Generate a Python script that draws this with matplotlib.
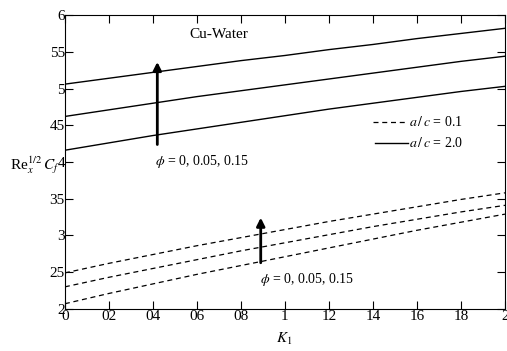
import matplotlib
matplotlib.use("Agg")
import matplotlib.pyplot as plt

plt.rcParams['font.family'] = ['Liberation Serif', 'DejaVu Serif']
plt.rcParams['mathtext.fontset'] = 'stix'

K = [0.0, 0.2, 0.4, 0.6, 0.8, 1.0, 1.2, 1.4, 1.6, 1.8, 2.0]
solid_phi0 = [4.16, 4.26, 4.36, 4.45, 4.54, 4.63, 4.72, 4.80, 4.88, 4.96, 5.03]
solid_phi005 = [4.62, 4.71, 4.80, 4.89, 4.97, 5.05, 5.13, 5.21, 5.29, 5.37, 5.44]
solid_phi015 = [5.06, 5.14, 5.22, 5.30, 5.38, 5.45, 5.53, 5.60, 5.68, 5.75, 5.82]
dash_phi0 = [2.07, 2.21, 2.34, 2.47, 2.59, 2.71, 2.83, 2.95, 3.07, 3.18, 3.29]
dash_phi005 = [2.30, 2.43, 2.55, 2.67, 2.79, 2.90, 3.01, 3.12, 3.22, 3.32, 3.41]
dash_phi015 = [2.49, 2.62, 2.74, 2.86, 2.97, 3.08, 3.19, 3.29, 3.39, 3.49, 3.58]

xticks = [0, 0.2, 0.4, 0.6, 0.8, 1.0, 1.2, 1.4, 1.6, 1.8, 2.0]
xticklabels = ['0', '02', '04', '06', '08', '1', '12', '14', '16', '18', '2']
yticks = [2, 2.5, 3, 3.5, 4, 4.5, 5, 5.5, 6]
yticklabels = ['2', '25', '3', '35', '4', '45', '5', '55', '6']

fig = plt.figure(figsize=(5.07, 3.51), dpi=100)
ax = fig.add_axes([0.128, 0.12, 0.868, 0.837])

for ys in (dash_phi0, dash_phi005, dash_phi015):
    ax.plot(K, ys, color='black', lw=0.9, dashes=(4, 3))
for ys in (solid_phi0, solid_phi005, solid_phi015):
    ax.plot(K, ys, color='black', lw=1.0)

ax.set_xlim(0, 2)
ax.set_ylim(2, 6)
ax.set_xticks(xticks)
ax.set_xticklabels(xticklabels)
ax.set_yticks(yticks)
ax.set_yticklabels(yticklabels)
ax.tick_params(direction='in', length=6, width=0.8, top=True, right=True,
               labelsize=11, pad=1)
ax.tick_params(axis='y', pad=0)
for s in ax.spines.values():
    s.set_linewidth(0.8)

# arrows
ax.annotate('', xy=(0.42, 5.40), xytext=(0.42, 4.20),
            arrowprops=dict(arrowstyle='-|>', lw=2, color='black', mutation_scale=12))
ax.annotate('', xy=(0.89, 3.28), xytext=(0.89, 2.59),
            arrowprops=dict(arrowstyle='-|>', lw=2, color='black', mutation_scale=12))
ax.text(0.41, 4.00, r'$\phi$ = 0, 0.05, 0.15', fontsize=10, va='center', ha='left')
ax.text(0.885, 2.40, r'$\phi$ = 0, 0.05, 0.15', fontsize=10, va='center', ha='left')
ax.text(0.565, 5.74, 'Cu-Water', fontsize=11, va='center', ha='left')

# legend
ax.plot([1.40, 1.56], [4.55, 4.55], color='black', lw=0.9, dashes=(4, 3))
ax.plot([1.41, 1.56], [4.26, 4.26], color='black', lw=1.0)
ax.text(1.565, 4.55, r'$a\,/\,c$ = 0.1', fontsize=10, va='center', ha='left')
ax.text(1.565, 4.26, r'$a\,/\,c$ = 2.0', fontsize=10, va='center', ha='left')

fig.text(0.02, 0.53, r'Re$_x^{1/2}\,C_f$', fontsize=11, va='center', ha='left')
fig.text(0.56, 0.035, r'$K_1$', fontsize=11, va='center', ha='center')

fig.savefig('out.png', dpi=100)
